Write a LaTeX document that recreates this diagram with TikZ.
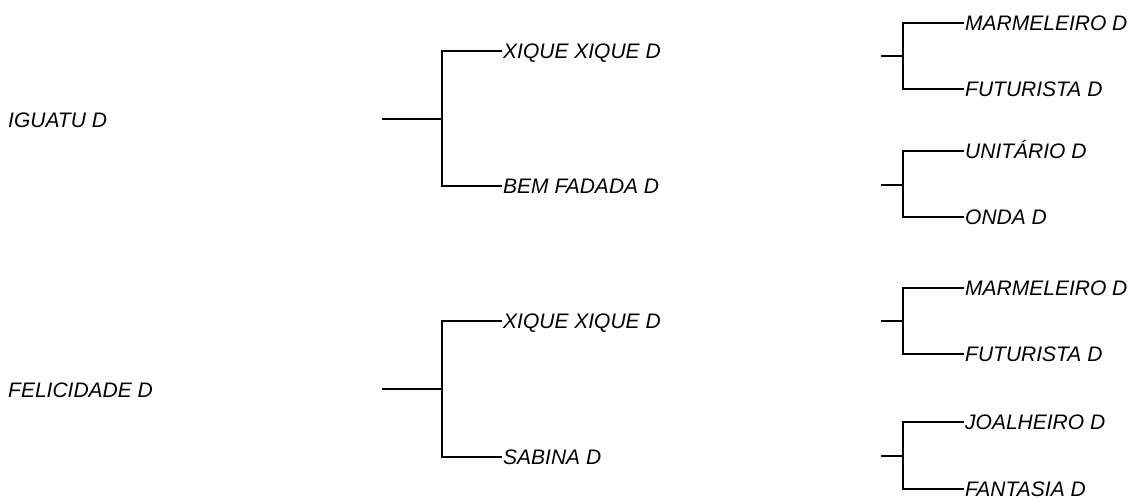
\documentclass[tikz,border=0pt]{standalone}
\usepackage{fontspec}
\setmainfont{Liberation Sans}
\usetikzlibrary{positioning}

\begin{document}
\begin{tikzpicture}[x=1pt,y=-1pt,
  lbl/.style={anchor=west,inner xsep=1pt,inner ysep=0pt,text height=15pt,text depth=0pt,
    font=\itshape\fontsize{21}{25}\selectfont},
  brk/.style={line width=2.5pt}]
 \useasboundingbox (0,0) rectangle (1133,498);
 % ---- roots ----
 \node[lbl] (r1) at (7,120) {IGUATU D};
 \node[lbl] (r2) at (7,390) {FELICIDADE D};
 % ---- middle level ----
 \coordinate (s1) at (382,119);
 \coordinate (j1) at (442,119);
 \node[lbl] (m1) at (502,51)  {XIQUE XIQUE D};
 \node[lbl] (m2) at (502,186) {BEM FADADA D};
 \coordinate (s2) at (382,389);
 \coordinate (j2) at (442,389);
 \node[lbl] (m3) at (502,321) {XIQUE XIQUE D};
 \node[lbl] (m4) at (502,457) {SABINA D};
 % ---- leaves ----
 \coordinate (t1) at (881,56);
 \coordinate (k1) at (903,56);
 \node[lbl] (l1) at (964,23)  {MARMELEIRO D};
 \node[lbl] (l2) at (964,89)  {FUTURISTA D};
 \coordinate (t2) at (881,185);
 \coordinate (k2) at (903,185);
 \node[lbl] (l3) at (964,151) {UNITÁRIO D};
 \node[lbl] (l4) at (964,217) {ONDA D};
 \coordinate (t3) at (881,321);
 \coordinate (k3) at (903,321);
 \node[lbl] (l5) at (964,288) {MARMELEIRO D};
 \node[lbl] (l6) at (964,354) {FUTURISTA D};
 \coordinate (t4) at (881,456);
 \coordinate (k4) at (903,456);
 \node[lbl] (l7) at (964,422) {JOALHEIRO D};
 \node[lbl] (l8) at (964,489) {FANTASIA D};
 % ---- brackets ----
 \draw[brk] (s1) -- (j1);
 \draw[brk] (m1.west) -| (j1) |- (m2.west);
 \draw[brk] (s2) -- (j2);
 \draw[brk] (m3.west) -| (j2) |- (m4.west);
 \draw[brk] (t1) -- (k1);
 \draw[brk] (l1.west) -| (k1) |- (l2.west);
 \draw[brk] (t2) -- (k2);
 \draw[brk] (l3.west) -| (k2) |- (l4.west);
 \draw[brk] (t3) -- (k3);
 \draw[brk] (l5.west) -| (k3) |- (l6.west);
 \draw[brk] (t4) -- (k4);
 \draw[brk] (l7.west) -| (k4) |- (l8.west);
\end{tikzpicture}
\end{document}
